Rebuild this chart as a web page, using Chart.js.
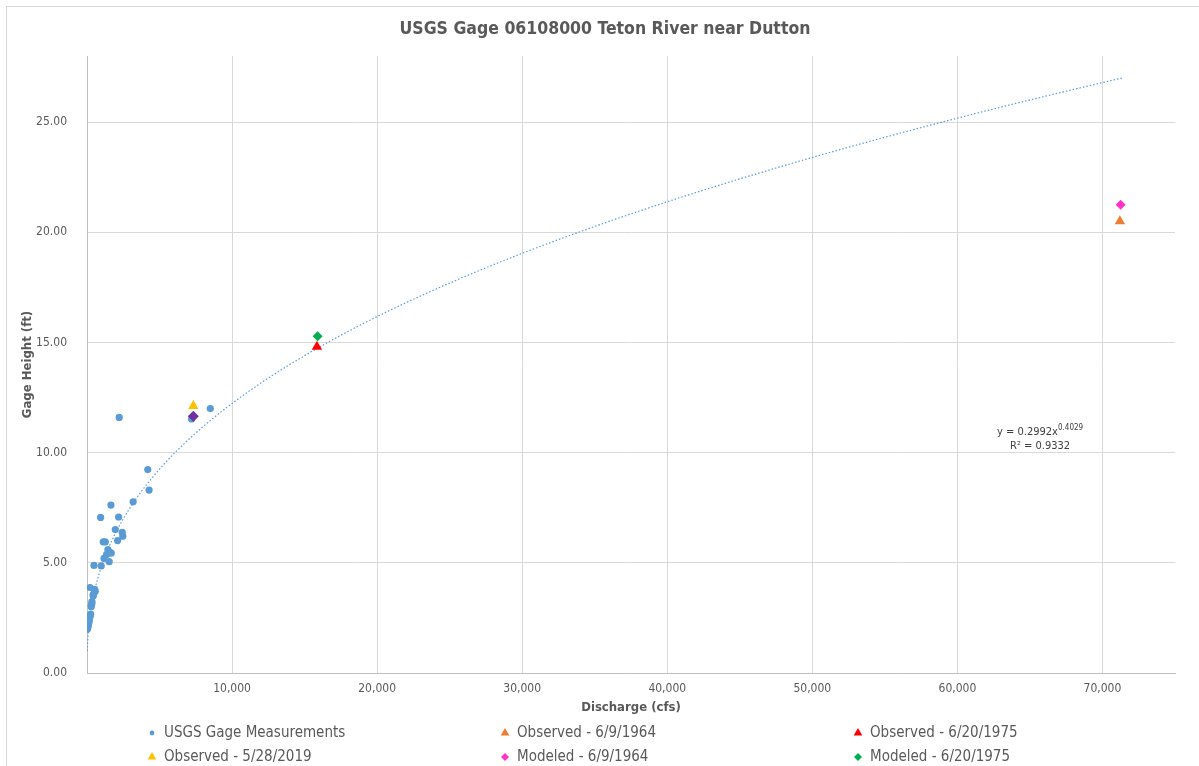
<!DOCTYPE html>
<html>
<head>
<meta charset="utf-8">
<script src="https://cdn.jsdelivr.net/npm/chart.js@4.4.1/dist/chart.umd.min.js"></script>
<style>
  html, body { margin: 0; padding: 0; background: #ffffff; }
  #wrap { position: relative; width: 1199px; height: 766px; }
</style>
</head>
<body>
<div id="wrap"><canvas id="chart" width="1199" height="766"></canvas></div>
<script>
// USGS field measurements: discharge (cfs) and gage height (ft)
const usgsX = [2220, 8500, 7210, 4190, 4280, 3180, 1650, 940, 2180, 1950, 2430, 2470, 2110,
  1120, 1260, 1440, 1580, 1670, 1350, 1170, 1530, 480, 980, 210, 530, 570, 480, 430, 420,
  340, 300, 340, 290, 250, 230, 210, 160, 140, 120, 90, 70, 40, 20];
const usgsY = [11.60, 12.00, 11.53, 9.23, 8.30, 7.77, 7.62, 7.06, 7.08, 6.51, 6.38, 6.21, 6.01,
  5.95, 5.95, 5.60, 5.47, 5.44, 5.38, 5.20, 5.05, 4.88, 4.86, 3.88, 3.80, 3.71, 3.62, 3.50, 3.55,
  3.24, 3.08, 3.14, 3.01, 2.67, 2.62, 2.56, 2.41, 2.35, 2.26, 2.18, 2.10, 2.03, 1.99];

// Flood events: observed and modeled peaks
const obs1964 = { x: 71200, y: 20.50 };
const obs1975 = { x: 15850, y: 14.80 };
const obs2019 = { x: 7330, y: 12.12 };
const mod1964 = { x: 71250, y: 21.25 };
const mod1975 = { x: 15900, y: 15.28 };
const mod2019 = { x: 7330, y: 11.65 };

// Power-law rating fit, y = a * x^b
const trendA = 0.2992;
const trendB = 0.4029;
const trendR2 = 0.9332;
const trendRange = [20, 71400];

// Axis ticks
const xTicks = [10000, 20000, 30000, 40000, 50000, 60000, 70000];
const xMax = 75000;
const yTicks = [0, 5, 10, 15, 20, 25];
const yMax = 28;

const chartTitle = 'USGS Gage 06108000 Teton River near Dutton';

const FONT = '"Liberation Sans Narrow", "DejaVu Sans Condensed", "Open Sans", sans-serif';
const TEXT = '#595959';

const trendPoints = [];
{
  const n = 160;
  const l0 = Math.log(trendRange[0]), l1 = Math.log(trendRange[1]);
  for (let i = 0; i <= n; i++) {
    const x = Math.exp(l0 + (l1 - l0) * i / n);
    trendPoints.push({ x, y: trendA * Math.pow(x, trendB) });
  }
}

const usgsPoints = usgsX.map((x, i) => ({ x, y: usgsY[i] }));

const datasets = [
  { label: 'USGS Gage Measurements', data: usgsPoints, pointStyle: 'circle', pointRadius: 3.6,
    backgroundColor: '#5b9bd5', borderColor: '#5b9bd5', borderWidth: 0, order: 6, legendRadius: 2.4 },
  { label: 'Observed - 6/9/1964', data: [obs1964], pointStyle: 'triangle', pointRadius: 6,
    backgroundColor: '#ed7d31', borderColor: '#ed7d31', borderWidth: 0, order: 3, legendRadius: 5 },
  { label: 'Observed - 6/20/1975', data: [obs1975], pointStyle: 'triangle', pointRadius: 6,
    backgroundColor: '#ff0000', borderColor: '#ff0000', borderWidth: 0, order: 3, legendRadius: 5 },
  { label: 'Observed - 5/28/2019', data: [obs2019], pointStyle: 'triangle', pointRadius: 6,
    backgroundColor: '#ffc000', borderColor: '#ffc000', borderWidth: 0, order: 3, legendRadius: 5 },
  { label: 'Modeled - 6/9/1964', data: [mod1964], pointStyle: 'rectRot', pointRadius: 5,
    backgroundColor: '#ff33cc', borderColor: '#ff33cc', borderWidth: 0, order: 2, legendRadius: 4 },
  { label: 'Modeled - 6/20/1975', data: [mod1975], pointStyle: 'rectRot', pointRadius: 5,
    backgroundColor: '#00b050', borderColor: '#00b050', borderWidth: 0, order: 2, legendRadius: 4 },
  { label: 'Modeled - 5/28/2019', data: [mod2019], pointStyle: 'rectRot', pointRadius: 5.5,
    backgroundColor: '#7030a0', borderColor: '#7030a0', borderWidth: 0, order: 1, noLegend: true },
  { label: 'Power (USGS Gage Measurements)', data: trendPoints, showLine: true, pointRadius: 0,
    borderColor: '#5b9bd5', borderWidth: 1.2, borderDash: [1.5, 2], backgroundColor: 'transparent',
    order: 5, noLegend: true, tension: 0 }
];

// Legend laid out as a three-column grid under the x axis
const gridLegend = {
  id: 'gridLegend',
  afterDraw(chart) {
    const ctx = chart.ctx;
    const cols = [152, 505, 858];
    const rows = [733, 757];
    const items = chart.data.datasets.filter(d => !d.noLegend);
    ctx.save();
    ctx.font = '15px ' + FONT;
    ctx.textBaseline = 'middle';
    ctx.textAlign = 'left';
    items.forEach((d, i) => {
      const cx = cols[i % 3], cy = rows[Math.floor(i / 3)];
      ctx.fillStyle = d.backgroundColor;
      Chart.helpers.drawPoint(ctx, { pointStyle: d.pointStyle, radius: d.legendRadius, rotation: 0, borderWidth: 0 }, cx, cy);
      ctx.fillStyle = TEXT;
      ctx.fillText(d.label, cx + 12, cy);
    });
    ctx.restore();
  }
};

// Fit equation and R² beside the curve
const fitLabel = {
  id: 'fitLabel',
  afterDatasetsDraw(chart) {
    const ctx = chart.ctx;
    const xs = chart.scales.x, ys = chart.scales.y;
    const cx = xs.getPixelForValue(65700);
    const y1 = ys.getPixelForValue(10.95);
    const y2 = y1 + 14;
    ctx.save();
    ctx.fillStyle = '#404040';
    ctx.textBaseline = 'middle';
    const main = 'y = ' + trendA.toFixed(4) + 'x';
    const sup = trendB.toFixed(4);
    ctx.font = '11px ' + FONT;
    const wMain = ctx.measureText(main).width;
    ctx.font = '8px ' + FONT;
    const wSup = ctx.measureText(sup).width;
    const left = cx - (wMain + wSup) / 2;
    ctx.font = '11px ' + FONT;
    ctx.textAlign = 'left';
    ctx.fillText(main, left, y1);
    ctx.font = '8px ' + FONT;
    ctx.fillText(sup, left + wMain, y1 - 4);
    ctx.font = '11px ' + FONT;
    ctx.textAlign = 'center';
    ctx.fillText('R\u00B2 = ' + trendR2.toFixed(4), cx, y2);
    ctx.restore();
  }
};

// White background, thin frame and the chart title
const frame = {
  id: 'frame',
  beforeDraw(chart) {
    const ctx = chart.ctx;
    ctx.save();
    ctx.fillStyle = '#ffffff';
    ctx.fillRect(0, 0, chart.width, chart.height);
    ctx.strokeStyle = '#d9d9d9';
    ctx.lineWidth = 1;
    ctx.strokeRect(6.5, 6.5, chart.width + 10, chart.height + 10);
    ctx.fillStyle = TEXT;
    ctx.font = 'bold 17.5px ' + FONT;
    ctx.textAlign = 'center';
    ctx.textBaseline = 'middle';
    ctx.fillText(chartTitle, 605, 29);
    ctx.restore();
  }
};

new Chart(document.getElementById('chart'), {
  type: 'scatter',
  data: { datasets },
  plugins: [frame, fitLabel, gridLegend],
  options: {
    responsive: false,
    animation: false,
    layout: { padding: { left: 8, right: 24, top: 56, bottom: 48 } },
    plugins: {
      legend: { display: false },
      tooltip: { enabled: false },
      title: { display: false }
    },
    scales: {
      x: {
        type: 'linear',
        min: 0,
        max: xMax,
        afterFit(scale) { scale.height = 45; },
        afterBuildTicks(scale) { scale.ticks = xTicks.map(v => ({ value: v })); },
        grid: { color: '#d9d9d9', drawTicks: false, lineWidth: 1 },
        border: { color: '#bfbfbf' },
        ticks: {
          color: TEXT,
          padding: 9,
          maxRotation: 0,
          autoSkip: false,
          font: { family: FONT, size: 12 },
          callback: v => v.toLocaleString('en-US')
        },
        title: {
          display: true,
          text: 'Discharge (cfs)',
          color: TEXT,
          font: { family: FONT, size: 13, weight: 'bold' },
          padding: { top: 0, bottom: 3 }
        }
      },
      y: {
        type: 'linear',
        min: 0,
        max: yMax,
        afterFit(scale) { scale.width = 79; },
        afterBuildTicks(scale) { scale.ticks = yTicks.map(v => ({ value: v })); },
        grid: { color: '#d9d9d9', drawTicks: false, lineWidth: 1 },
        border: { color: '#bfbfbf' },
        ticks: {
          color: TEXT,
          padding: 20,
          autoSkip: false,
          font: { family: FONT, size: 12 },
          callback: v => v.toFixed(2)
        },
        title: {
          display: true,
          text: 'Gage Height (ft)',
          color: TEXT,
          font: { family: FONT, size: 13, weight: 'bold' },
          padding: { top: 12, bottom: 0 }
        }
      }
    }
  }
});
</script>
</body>
</html>
